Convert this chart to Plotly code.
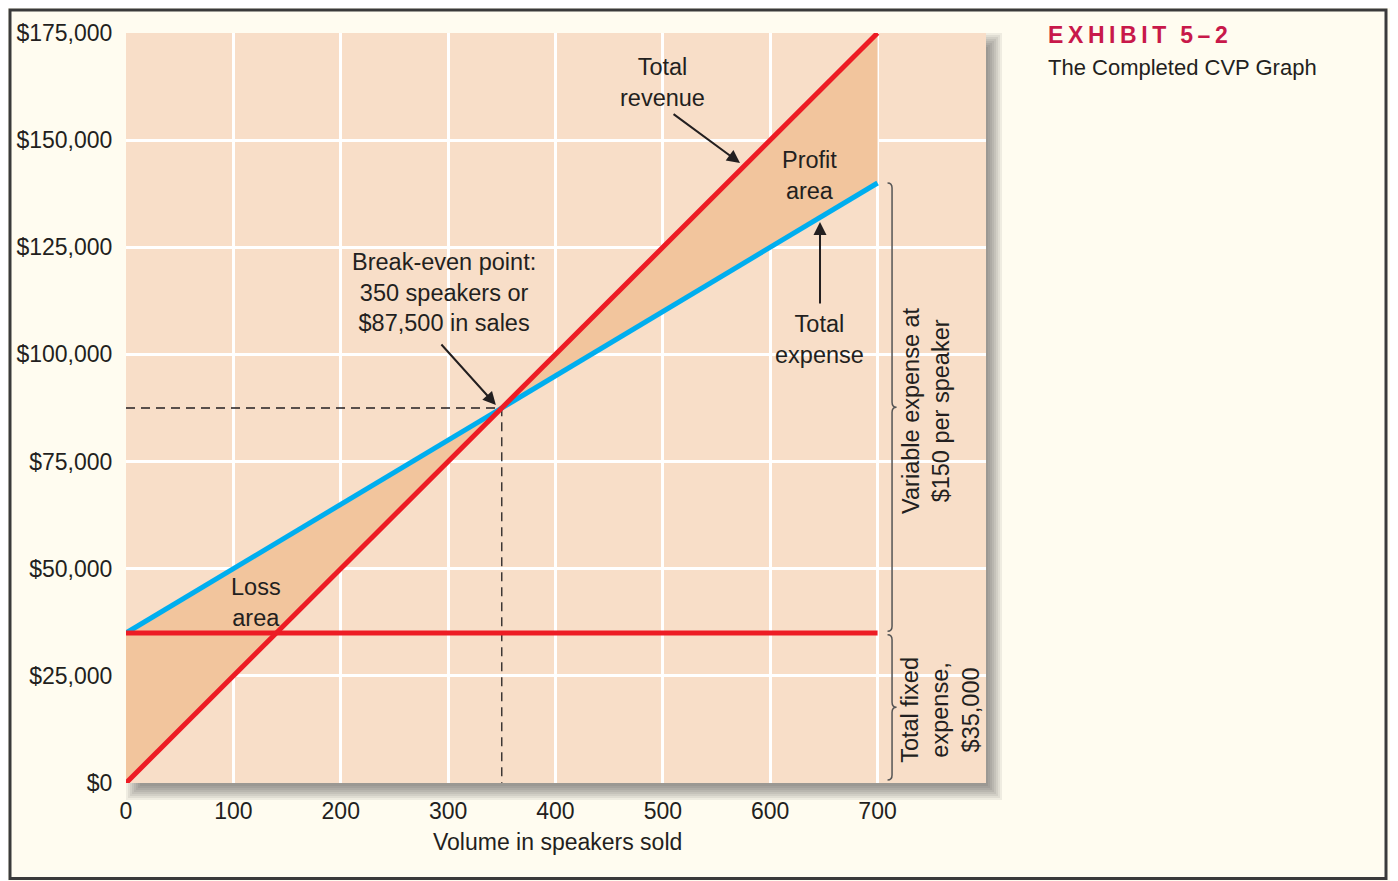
import plotly.graph_objects as go

# CVP data for the speaker example
volume = [0, 350, 700]
total_revenue = [0, 87500, 175000]
total_expense = [35000, 87500, 140000]
fixed_expense = [35000, 35000, 35000]
break_even_units = 350
break_even_sales = 87500

x_ticks = [0, 100, 200, 300, 400, 500, 600, 700]
y_ticks = [0, 25000, 50000, 75000, 100000, 125000, 150000, 175000]
y_tick_labels = ["$0", "$25,000", "$50,000", "$75,000", "$100,000",
                 "$125,000", "$150,000", "$175,000"]

RED = "#ED1C24"
BLUE = "#00AEEF"
FILL = "#F2C59D"
PLOT_BG = "#F8DEC8"
PAPER = "#FFFCF0"
INK = "#231F20"
FONT = "Liberation Sans, Arial, sans-serif"

# page has an 8px body margin, so the figure is a bit smaller than the window
W, H = 1390, 873
L, R, T, B = 118, 412, 25, 98
X_MAX = 801
Y_MAX = 175000


# page pixel -> paper helpers (only for decorations outside the data)
def px(x):
    return (x - 8 - L) / (W - L - R)


def py(y):
    return (H - B - (y - 8)) / (H - T - B)


fig = go.Figure()

# loss area: between total expense and revenue up to break-even
fig.add_trace(go.Scatter(
    x=volume[:2] + volume[:2][::-1],
    y=total_revenue[:2] + total_expense[:2][::-1],
    fill="toself", fillcolor=FILL, line=dict(width=0), mode="lines",
    hoverinfo="skip"))
# profit area
fig.add_trace(go.Scatter(
    x=volume[1:] + volume[1:][::-1],
    y=total_revenue[1:] + total_expense[1:][::-1],
    fill="toself", fillcolor=FILL, line=dict(width=0), mode="lines",
    hoverinfo="skip"))

# dashed guides to the break-even point
fig.add_trace(go.Scatter(
    x=[0, break_even_units, break_even_units],
    y=[break_even_sales, break_even_sales, 0],
    mode="lines", line=dict(color=INK, width=1.3, dash="9px,6px")))

fig.add_trace(go.Scatter(x=volume, y=total_expense, mode="lines",
                         line=dict(color=BLUE, width=5)))
fig.add_trace(go.Scatter(x=volume, y=fixed_expense, mode="lines",
                         line=dict(color=RED, width=5)))
fig.add_trace(go.Scatter(x=volume, y=total_revenue, mode="lines",
                         line=dict(color=RED, width=5)))

# shadow + plot panel
shapes = []
for i in range(8):
    g = 2 * i
    shapes.append(dict(type="rect", xref="paper", yref="paper",
                       x0=px(140 - g), x1=px(988 + g),
                       y0=py(786 + g), y1=py(47 - g),
                       fillcolor="rgba(50,50,50,0.08)", line=dict(width=0),
                       layer="below"))
shapes.append(dict(type="rect", xref="paper", yref="paper", x0=0, x1=1, y0=0, y1=1,
                   fillcolor=PLOT_BG, line=dict(width=0), layer="below"))
# outer frame (kept inside the figure area)
shapes.append(dict(type="rect", xref="paper", yref="paper",
                   x0=px(10), x1=px(1386), y0=py(878.5), y1=py(10),
                   line=dict(color="#3A3A3A", width=3), layer="above"))


# curly braces on the right side
def brace(x, y_top, y_bot):
    dx = 4.5 / 1.0736
    dy = 5 * Y_MAX / 750
    ym = (y_top + y_bot) / 2
    return (f"M {x - dx},{y_top} Q {x},{y_top} {x},{y_top - dy} "
            f"L {x},{ym + dy} Q {x},{ym} {x + dx},{ym} "
            f"Q {x},{ym} {x},{ym - dy} "
            f"L {x},{y_bot + dy} Q {x},{y_bot} {x - dx},{y_bot}")


brace_x = 713.5
shapes.append(dict(type="path", xref="x", yref="y",
                   path=brace(brace_x, total_expense[-1], fixed_expense[-1] + 400),
                   line=dict(color="#555555", width=1.5)))
shapes.append(dict(type="path", xref="x", yref="y",
                   path=brace(brace_x, fixed_expense[-1] - 400, 700),
                   line=dict(color="#555555", width=1.5)))

ann_font = dict(family=FONT, size=23.5, color=INK)
annotations = [
    dict(x=500, y=163450, text="Total<br>revenue", showarrow=False, font=ann_font),
    dict(x=296, y=114567, text="Break-even point:<br>350 speakers or<br>$87,500 in sales",
         showarrow=False, font=ann_font),
    dict(x=637, y=141750, text="Profit<br>area", showarrow=False, font=ann_font),
    dict(x=646, y=103600, text="Total<br>expense", showarrow=False, font=ann_font),
    dict(x=121, y=42117, text="Loss<br>area", showarrow=False, font=ann_font),
    dict(x=745, y=86800, text="Variable expense at<br>$150 per speaker", textangle=-90,
         showarrow=False, font=ann_font),
    dict(x=758, y=17033, text="Total fixed<br>expense,<br>$35,000", textangle=-90,
         showarrow=False, font=ann_font),
]
arrows = [
    ((571.9, 144667), (508.6, 156333)),
    ((344.5, 88200), (292.5, 102667)),
    ((646.4, 130900), (646.4, 111533)),
]
for (hx, hy), (tx, ty) in arrows:
    annotations.append(dict(x=hx, y=hy, ax=tx, ay=ty, axref="x", ayref="y", text="",
                            showarrow=True, arrowhead=2, arrowsize=1.3, arrowwidth=2,
                            arrowcolor=INK))

ts = "\u2009"
annotations += [
    dict(xref="paper", yref="paper", x=px(1046), y=py(35), xanchor="left", yanchor="middle",
         text="<b>" + ts.join("EXHIBIT") + ts * 3 + ts.join("5–2") + "</b>", showarrow=False,
         font=dict(family=FONT, size=23, color="#C8184A")),
    dict(xref="paper", yref="paper", x=px(1046), y=py(67), xanchor="left", yanchor="middle",
         text="The Completed CVP Graph", showarrow=False,
         font=dict(family=FONT, size=22, color=INK)),
    dict(xref="paper", yref="paper", x=px(557), y=py(842), xanchor="center", yanchor="middle",
         text="Volume in speakers sold", showarrow=False,
         font=dict(family=FONT, size=23, color=INK)),
]

fig.update_layout(
    width=W, height=H,
    margin=dict(l=L, r=R, t=T, b=B, autoexpand=False),
    paper_bgcolor=PAPER, plot_bgcolor=PLOT_BG,
    showlegend=False,
    shapes=shapes, annotations=annotations,
    font=dict(family=FONT, size=23, color=INK),
)
fig.update_xaxes(range=[0, X_MAX], tickvals=x_ticks, showgrid=True, gridcolor="white",
                 gridwidth=2.5, zeroline=False, showline=False, ticks="outside",
                 ticklen=7, tickcolor="rgba(0,0,0,0)", tickfont=dict(size=23, color=INK))
fig.update_yaxes(range=[0, Y_MAX], tickvals=y_ticks, ticktext=y_tick_labels,
                 showgrid=True, gridcolor="white", gridwidth=2.5, zeroline=False,
                 showline=False, ticks="outside", ticklen=8, tickcolor="rgba(0,0,0,0)",
                 tickfont=dict(size=23, color=INK))

fig.write_html("out.html")
